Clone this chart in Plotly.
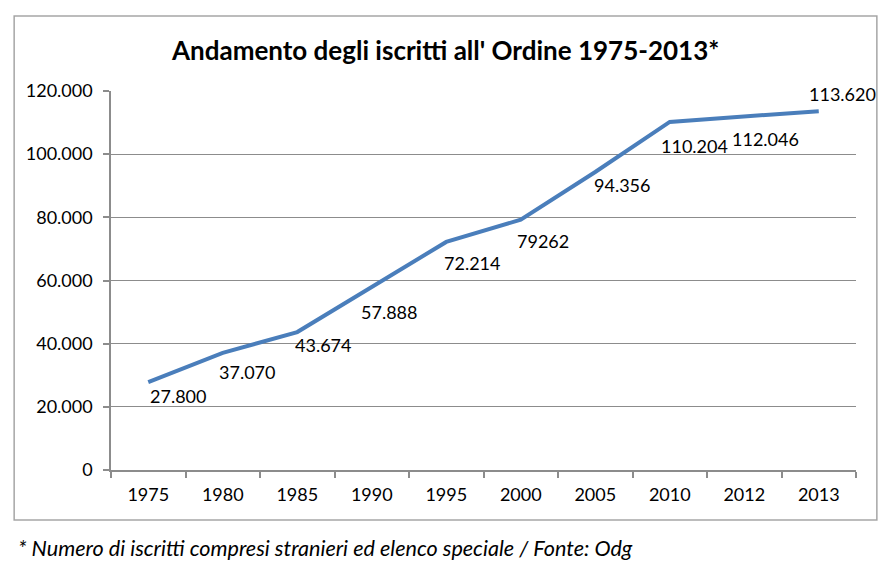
import plotly.graph_objects as go

years = ["1975", "1980", "1985", "1990", "1995", "2000", "2005", "2010", "2012", "2013"]
iscritti = [27800, 37070, 43674, 57888, 72214, 79262, 94356, 110204, 112046, 113620]
value_labels = ["27.800", "37.070", "43.674", "57.888", "72.214", "79262", "94.356", "110.204", "112.046", "113.620"]
y_ticks = [0, 20000, 40000, 60000, 80000, 100000, 120000]
y_tick_labels = ["0", "20.000", "40.000", "60.000", "80.000", "100.000", "120.000"]

# label placement offsets (px) relative to each point
label_dx = [0, -6, -4, -13, -4, -6, -3, -11, -14, -12]
label_dy = [14, 19, 13, 25, 21, 21, 13, 24, 23, -17]

FONT = "Lato"
GRID = "#8c8c8c"

fig = go.Figure()
fig.add_trace(go.Scatter(
    x=years, y=iscritti, mode="lines",
    line=dict(color="#4a7ebb", width=4),
    hoverinfo="x+y", showlegend=False,
))

for i, (v, lab, dx, dy) in enumerate(zip(iscritti, value_labels, label_dx, label_dy)):
    fig.add_annotation(
        x=i, y=v, text=lab, showarrow=False,
        xanchor="left", yanchor="middle",
        xshift=dx, yshift=-dy,
        font=dict(family=FONT, size=18, color="#000000"),
    )

fig.add_annotation(
    xref="paper", yref="paper", x=0.448, y=1.0, yshift=41,
    text="<b>Andamento degli iscritti all' Ordine 1975-2013*</b>",
    showarrow=False, xanchor="center", yanchor="middle",
    font=dict(family=FONT, size=26, color="#000000"),
)
fig.add_annotation(
    xref="paper", yref="paper", x=-0.128, y=0, yshift=-78,
    text="<i>* Numero di iscritti compresi stranieri ed elenco speciale / Fonte: Odg</i>",
    showarrow=False, xanchor="left", yanchor="middle",
    font=dict(family=FONT, size=21.6, color="#000000"),
)

# outer chart frame
fig.add_shape(type="rect", xref="paper", yref="paper",
              x0=-0.130, x1=1.028, y0=-0.132, y1=1.198,
              line=dict(color="#a6a6a6", width=1.5), fillcolor="rgba(0,0,0,0)", layer="below")

fig.update_layout(
    width=889, height=563,
    margin=dict(l=111, r=33, t=91, b=93),
    paper_bgcolor="white", plot_bgcolor="white",
    font=dict(family=FONT, size=18, color="#000000"),
    showlegend=False,
)
fig.update_xaxes(
    type="category", range=[-0.5, 9.5],
    showgrid=False, showline=True, linecolor=GRID, linewidth=1.5,
    ticks="outside", tickson="boundaries", ticklen=6, tickcolor=GRID, tickwidth=1.5,
    ticklabelstandoff=8,
    tickfont=dict(family=FONT, size=18, color="#000000"),
)
fig.update_yaxes(
    range=[0, 120000], tickvals=y_ticks, ticktext=y_tick_labels,
    showgrid=True, gridcolor=GRID, gridwidth=1.2,
    showline=True, linecolor=GRID, linewidth=1.5,
    ticks="outside", ticklen=6, tickcolor=GRID, tickwidth=1.5,
    ticklabelstandoff=7,
    tickfont=dict(family=FONT, size=18, color="#000000"),
    zeroline=False,
)

fig.write_html(
    "out.html",
    config={"displayModeBar": False},
    post_script="document.body.style.margin='0';document.body.style.overflow='hidden';",
)
